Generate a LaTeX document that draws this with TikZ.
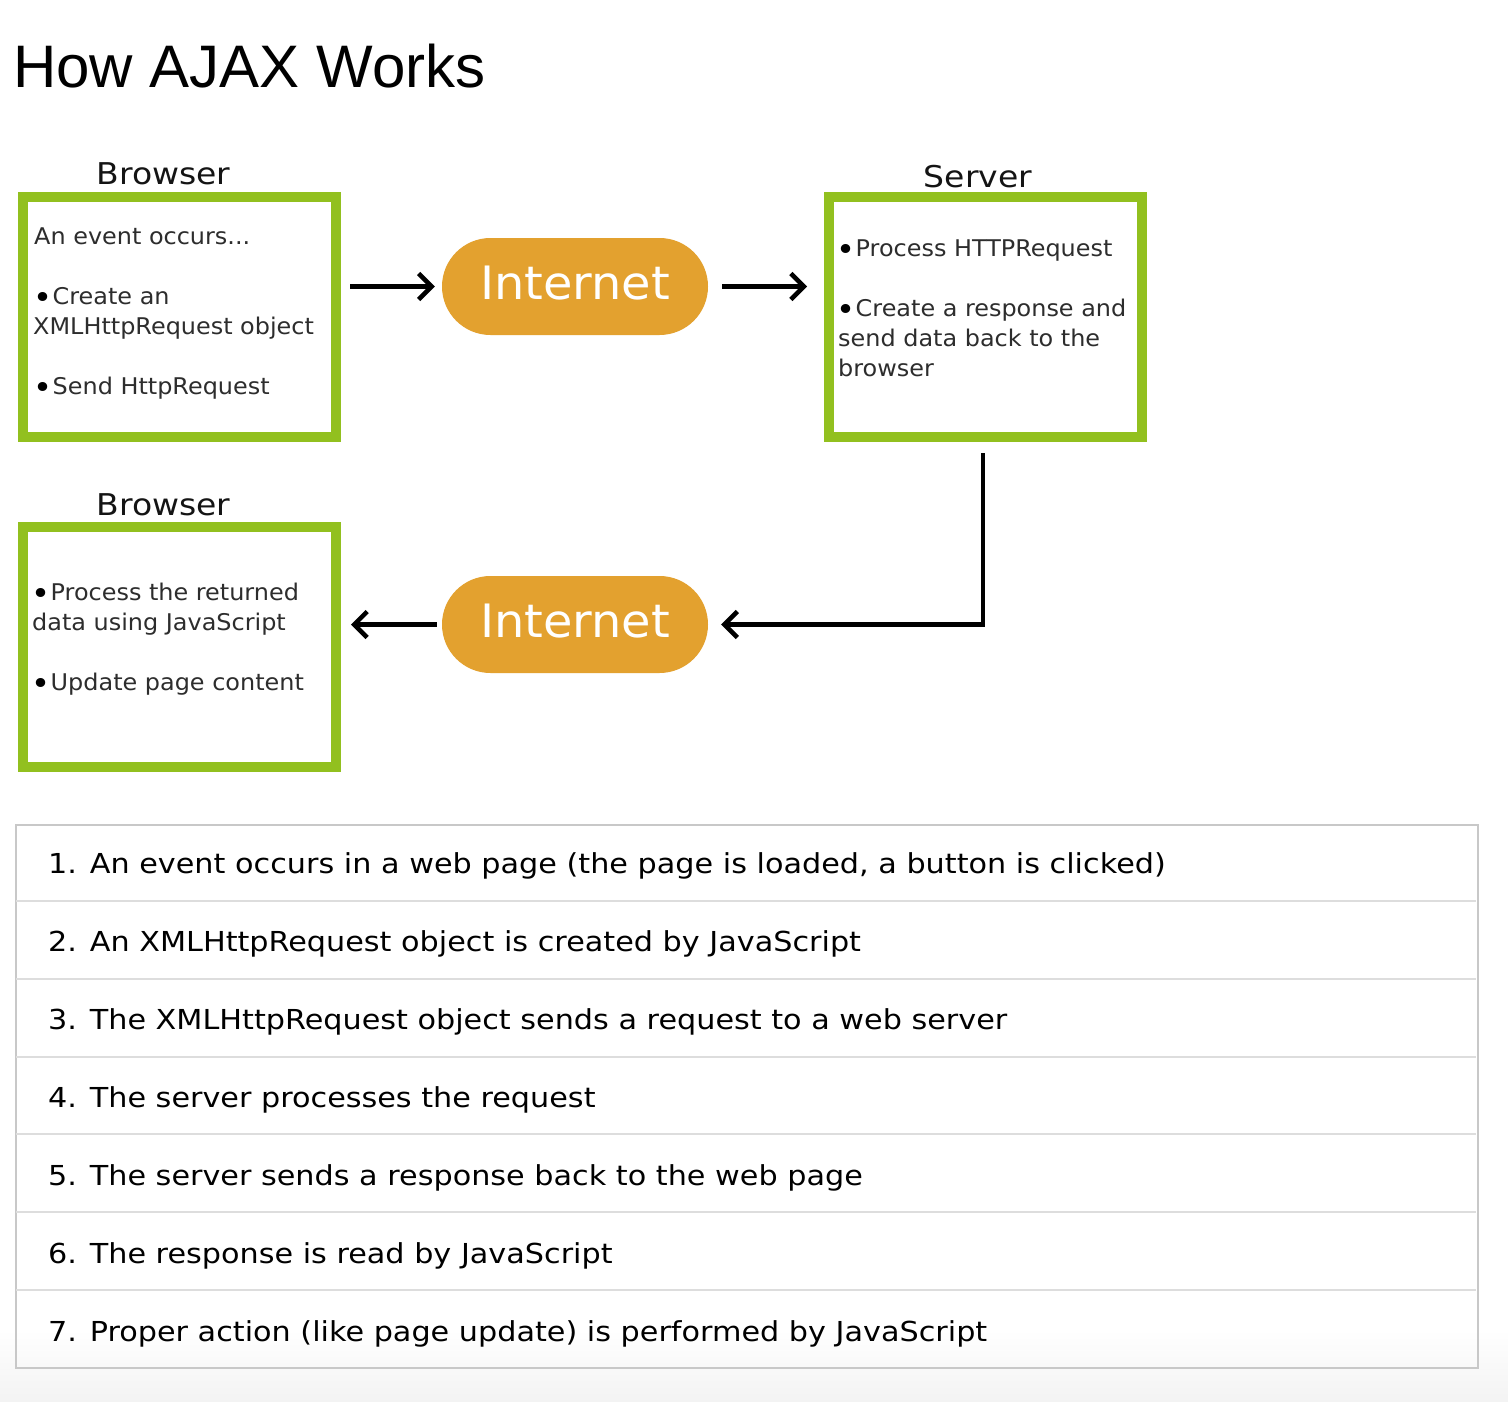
\documentclass[tikz,border=0pt]{standalone}
\usepackage{fontspec}
\setmainfont{DejaVu Sans}
\newfontfamily\titlefont{Liberation Sans}
\newfontfamily\fa{DejaVu Sans}[FakeStretch=1.04]
\newfontfamily\fb{DejaVu Sans}[FakeStretch=1.1]
\usetikzlibrary{arrows.meta,calc}
\definecolor{boxgreen}{RGB}{146,192,31}
\definecolor{netorange}{RGB}{227,161,47}
\definecolor{boxtext}{RGB}{45,45,45}
\definecolor{lbltext}{RGB}{20,20,20}
\definecolor{tblborder}{RGB}{200,200,200}
\definecolor{tblsep}{RGB}{221,221,221}
\definecolor{bgbottom}{RGB}{243,243,243}
\newcommand\mybul{\raisebox{-4.5pt}{\fontsize{31}{31}\selectfont\color{black}•}\kern0.5pt}
\begin{document}
\begin{tikzpicture}[x=1pt,y=-1pt,
  gbox/.style={draw=boxgreen, line width=10pt, fill=white, minimum width=313pt, minimum height=240pt, inner sep=0pt},
  pill/.style={fill=netorange, rounded corners=48.5pt, minimum width=266pt, minimum height=97pt, inner sep=0pt, text=white, text depth=8pt, font=\fa\fontsize{46}{46}\selectfont},
  lbl/.style={anchor=base, inner sep=0pt, text=lbltext, font=\fb\fontsize{30}{34}\selectfont},
  bxt/.style={anchor=base west, inner sep=0pt, text=boxtext, font=\fa\fontsize{23}{28}\selectfont},
  rowtxt/.style={anchor=base west, inner sep=0pt, text=black, font=\fb\fontsize{27.5}{30}\selectfont},
  arr/.style={line width=4.5pt, draw=black, -{Straight Barb[length=13pt,width=26pt]}},
  tblline/.style={draw=tblsep, line width=2pt}
]
\useasboundingbox (0,0) rectangle (1508,1402);
\fill[white] (0,0) rectangle (1508,1402);
\begin{scope}[y=1pt]
  \shade[top color=white, bottom color=bgbottom] (0,-1402) rectangle (1508,-1330);
\end{scope}

% title
\node[anchor=base west, inner sep=0pt, font=\titlefont\fontsize{60}{60}\selectfont] (title) at (13,88) {How AJAX Works};

% boxes
\node[gbox] (br1) at (179.5,317) {};
\node[gbox] (sv) at (985.5,317) {};
\node[gbox] (br2) at (179.5,647) {};

% labels
\node[lbl] (lb1) at (163.5,185) {Browser};
\node[lbl] (lsv) at (978,187) {Server};
\node[lbl] (lb2) at (163.5,515) {Browser};

% box 1 text
\node[bxt] (b1a) at (34,244) {An event occurs...};
\node[bxt] (b1b) at (33,304) {\mybul Create an};
\node[bxt] (b1c) at (33,334) {XMLHttpRequest object};
\node[bxt] (b1d) at (33,394) {\mybul Send HttpRequest};

% server text
\node[bxt] (s1) at (836,256) {\mybul Process HTTPRequest};
\node[bxt] (s2) at (836,316) {\mybul Create a response and};
\node[bxt] (s3) at (838,346) {send data back to the};
\node[bxt] (s4) at (838,376) {browser};

% box 3 text
\node[bxt] (b3a) at (31,600) {\mybul Process the returned};
\node[bxt] (b3b) at (32,630) {data using JavaScript};
\node[bxt] (b3c) at (31,690) {\mybul Update page content};

% internet pills
\node[pill] (net1) at (575,286.5) {Internet};
\node[pill] (net2) at (575,624.5) {Internet};

% arrows
\draw[arr, shorten <=9pt, shorten >=7pt] (br1.east |- net1.west) -- (net1.west);
\draw[arr, shorten <=14pt, shorten >=17pt] (net1.east) -- (sv.west |- net1.east);
\draw[arr, shorten <=11pt, shorten >=13pt] ([xshift=-2.5pt]sv.south) |- (net2.east);
\draw[arr, shorten <=5pt, shorten >=10pt] (net2.west) -- (br2.east |- net2.west);

% table
\node[draw=tblborder, line width=2pt, minimum width=1462pt, minimum height=543pt, inner sep=0pt, anchor=north west] (tbl) at (15,824) {};
\foreach \i in {1,...,6} {
  \draw[tblline] (16,{823+77.86*\i}) -- (1476,{823+77.86*\i});
}
\node[rowtxt] (r1) at (48,873) {1. An event occurs in a web page (the page is loaded, a button is clicked)};
\node[rowtxt] (r2) at (48,951) {2. An XMLHttpRequest object is created by JavaScript};
\node[rowtxt] (r3) at (48,1029) {3. The XMLHttpRequest object sends a request to a web server};
\node[rowtxt] (r4) at (48,1107) {4. The server processes the request};
\node[rowtxt] (r5) at (48,1185) {5. The server sends a response back to the web page};
\node[rowtxt] (r6) at (48,1263) {6. The response is read by JavaScript};
\node[rowtxt] (r7) at (48,1341) {7. Proper action (like page update) is performed by JavaScript};
\end{tikzpicture}
\end{document}
